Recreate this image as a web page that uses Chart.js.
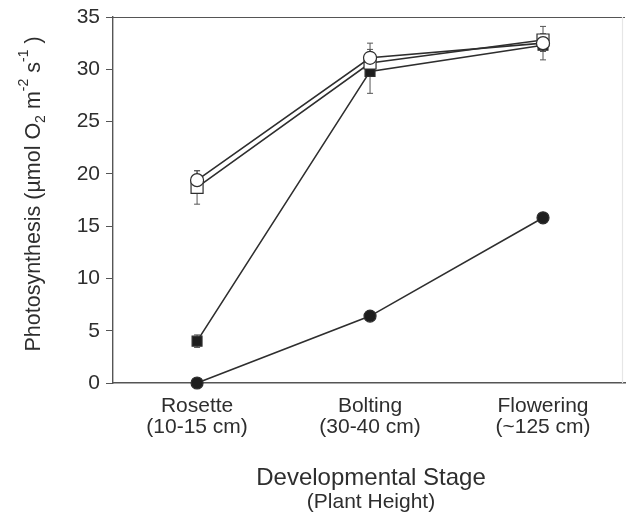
<!DOCTYPE html>
<html>
<head>
<meta charset="utf-8">
<script src="https://cdn.jsdelivr.net/npm/chart.js@4.4.1/dist/chart.umd.min.js"></script>
<style>
  html, body { margin: 0; padding: 0; background: #fff; }
  #wrap { width: 627px; height: 514px; }
</style>
</head>
<body>
<div id="wrap"><canvas id="photoChart" width="627" height="514"></canvas></div>
<script>
// --- Data ---
const STAGE_POS = [0, 1, 2];
const STAGE_LABELS = [['Rosette', '(10-15 cm)'], ['Bolting', '(30-40 cm)'], ['Flowering', '(~125 cm)']];
const Y_TICKS = [0, 5, 10, 15, 20, 25, 30, 35];

const openCircle = [19.4, 31.1, 32.5];
const openCircleErr = [0.9, 1.4, 1.6];
const openSquare = [18.7, 30.6, 32.8];
const openSquareErr = [1.6, 0.8, 0.6];
const filledSquare = [4.0, 29.8, 32.3];
const filledSquareErr = [0.6, 2.1, 0.6];
const filledCircle = [0.0, 6.4, 15.8];
const filledCircleErr = [0, 0.3, 0.5];

const INK = '#2e2e2e';
const FONT = "'Liberation Sans', Arial, sans-serif";

function toPoints(values) {
    return values.map((v, i) => ({ x: STAGE_POS[i], y: v }));
}

// --- Plugins ---
// vertical error bars drawn through the chart's own scales
const errorBarPlugin = {
    id: 'errorBars',
    beforeDatasetsDraw(chart) {
        const { ctx, scales: { x, y } } = chart;
        ctx.save();
        ctx.strokeStyle = '#555';
        ctx.lineWidth = 1;
        chart.data.datasets.forEach(ds => {
            if (!ds.errors) return;
            ds.data.forEach((pt, i) => {
                const e = ds.errors[i];
                if (!e) return;
                const px = x.getPixelForValue(pt.x);
                const top = y.getPixelForValue(pt.y + e);
                const bot = y.getPixelForValue(pt.y - e);
                ctx.beginPath();
                ctx.moveTo(px, top); ctx.lineTo(px, bot);
                ctx.moveTo(px - 3, top); ctx.lineTo(px + 3, top);
                ctx.moveTo(px - 3, bot); ctx.lineTo(px + 3, bot);
                ctx.stroke();
            });
        });
        ctx.restore();
    }
};

// frame top line + axis titles (with sub/superscripts)
const framePlugin = {
    id: 'frameAndTitles',
    afterDraw(chart) {
        const { ctx, chartArea: a } = chart;
        ctx.save();
        ctx.strokeStyle = '#555';
        ctx.lineWidth = 1.2;
        ctx.beginPath();
        ctx.moveTo(a.left, a.top + 0.5); ctx.lineTo(a.right, a.top + 0.5);
        ctx.stroke();
        ctx.strokeStyle = '#e6e6e6';
        ctx.beginPath();
        ctx.moveTo(a.right - 2.5, a.top); ctx.lineTo(a.right - 2.5, a.bottom);
        ctx.stroke();

        ctx.fillStyle = INK;
        // x title
        const cx = (a.left + a.right) / 2;
        ctx.textAlign = 'center';
        ctx.textBaseline = 'alphabetic';
        ctx.font = `24px ${FONT}`;
        ctx.fillText('Developmental Stage', cx + 2, 485);
        ctx.font = `21px ${FONT}`;
        ctx.fillText('(Plant Height)', cx + 2, 508);

        // y title, rotated, made of segments
        const parts = [
            { t: 'Photosynthesis (\u00b5mol O', s: 21.5, dy: 0 },
            { t: '2', s: 14, dy: 5 },
            { t: ' m', s: 21.5, dy: 0 },
            { t: '-2', s: 14, dy: -12 },
            { t: ' s', s: 21.5, dy: 0 },
            { t: '-1', s: 14, dy: -12 },
            { t: ' )', s: 21.5, dy: 0 }
        ];
        let total = 0;
        parts.forEach(p => { ctx.font = `${p.s}px ${FONT}`; p.w = ctx.measureText(p.t).width; total += p.w; });
        ctx.translate(40, (a.top + a.bottom) / 2 - 6);
        ctx.rotate(-Math.PI / 2);
        ctx.textAlign = 'left';
        let pos = -total / 2;
        parts.forEach(p => {
            ctx.font = `${p.s}px ${FONT}`;
            ctx.fillText(p.t, pos, p.dy);
            pos += p.w;
        });
        ctx.restore();
    }
};

// --- Datasets ---
function series(label, values, errors, style, radius, fill) {
    return {
        label,
        data: toPoints(values),
        errors,
        clip: false, // markers sitting on the x axis stay whole
        borderColor: INK,
        borderWidth: 1.6,
        pointStyle: style,
        pointRadius: radius,
        pointBackgroundColor: fill,
        pointBorderColor: INK,
        pointBorderWidth: 1.2,
        tension: 0
    };
}

const datasets = [
    series('Open circle', openCircle, openCircleErr, 'circle', 6.5, '#fff'),
    series('Open square', openSquare, openSquareErr, 'rect', 8.5, '#fff'),
    series('Filled square', filledSquare, filledSquareErr, 'rect', 7, '#1e1e1e'),
    series('Filled circle', filledCircle, filledCircleErr, 'circle', 6, '#1e1e1e')
];

new Chart(document.getElementById('photoChart'), {
    type: 'line',
    data: { datasets },
    plugins: [errorBarPlugin, framePlugin],
    options: {
        responsive: false,
        animation: false,
        layout: { autoPadding: false, padding: { top: 17, right: 2, bottom: 0, left: 0 } },
        plugins: { legend: { display: false }, tooltip: { enabled: false } },
        elements: { line: { fill: false } },
        scales: {
            x: {
                type: 'linear',
                min: -0.486,
                max: 2.474,
                afterFit: s => { s.height = 131; s.paddingLeft = 0; s.paddingRight = 0; },
                afterBuildTicks: s => { s.ticks = STAGE_POS.map(v => ({ value: v })); },
                grid: { display: false },
                border: { color: '#555', width: 1.4 },
                ticks: {
                    color: INK,
                    padding: 5,
                    font: { family: FONT, size: 21, lineHeight: 1.0 },
                    callback: v => STAGE_LABELS[STAGE_POS.indexOf(v)] || ''
                }
            },
            y: {
                min: 0,
                max: 35,
                afterFit: s => { s.width = 113; s.paddingTop = 0; s.paddingBottom = 0; },
                afterBuildTicks: s => { s.ticks = Y_TICKS.map(v => ({ value: v })); },
                grid: { drawOnChartArea: false, drawTicks: true, tickLength: 7, color: '#555' },
                border: { color: '#555', width: 1.4 },
                ticks: {
                    color: INK,
                    padding: 6,
                    font: { family: FONT, size: 21 }
                }
            }
        }
    }
});
</script>
</body>
</html>
